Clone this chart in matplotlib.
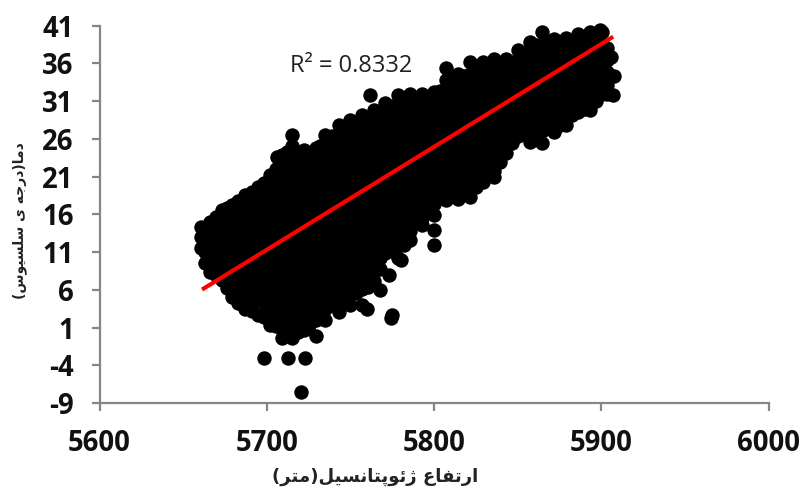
import matplotlib
matplotlib.use("Agg")
import matplotlib.pyplot as plt

# ── Data ──────────────────────────────────────────────────────
column_alt = [
    5660.7, 5666, 5673, 5679, 5687, 5695, 5702, 5709, 5715, 5722, 5729.5, 5735,
    5743, 5750, 5757, 5764, 5771, 5778.5, 5785.5, 5793, 5800, 5807, 5814.5, 5821.5,
    5829, 5836, 5843, 5850, 5857.5, 5864.5, 5872, 5879, 5886, 5893, 5900.5,
]
column_temp = [
    [14.3, 13.0, 11.6],
    [15.0, 13.4, 11.7, 10.0, 8.4],
    [16.6, 14.9, 13.3, 11.6, 10.0, 8.5, 7.3],
    [17.2, 15.5, 13.8, 12.2, 10.5, 8.8, 7.2, 5.1],
    [18.6, 17.0, 15.3, 13.7, 12.0, 10.4, 8.7, 7.0, 5.3, 3.5],
    [19.6, 18.0, 16.3, 14.7, 13.0, 11.4, 9.7, 8.0, 6.3, 4.6, 2.7],
    [21.2, 19.5, 17.9, 16.2, 14.6, 12.9, 11.3, 9.6, 8.0, 6.3, 4.7, 3.0, 1.4],
    [23.9, 22.2, 20.6, 18.9, 17.3, 15.6, 14.0, 12.3, 10.7, 9.0, 7.4, 5.7, 4.1, 2.4, 0.8, -0.4],
    [26.5, 25.0, 23.4, 21.8, 20.1, 18.5, 16.8, 15.2, 13.5, 11.9, 10.2, 8.6, 6.9, 5.3, 3.6, 2.0, 0.4, -0.4],
    [24.5, 22.9, 21.2, 19.6, 17.9, 16.3, 14.6, 13.0, 11.3, 9.7, 8.0, 6.4, 4.7, 3.1, 1.4, 0.7],
    [24.8, 23.2, 21.5, 19.9, 18.2, 16.6, 14.9, 13.3, 11.6, 10.0, 8.3, 6.7, 5.0, 3.4, 2.0, -0.1],
    [26.5, 24.9, 23.2, 21.6, 19.9, 18.3, 16.6, 15.0, 13.3, 11.7, 10.0, 8.4, 6.7, 5.1, 3.4, 2.0],
    [27.8, 26.2, 24.5, 22.9, 21.2, 19.6, 17.9, 16.3, 14.6, 13.0, 11.3, 9.7, 8.0, 6.4, 4.7, 3.1],
    [28.5, 26.9, 25.2, 23.6, 21.9, 20.3, 18.6, 17.0, 15.3, 13.7, 12.0, 10.4, 8.7, 7.1, 5.4, 4.0],
    [29.2, 27.6, 25.9, 24.3, 22.6, 21.0, 19.3, 17.7, 16.0, 14.4, 12.7, 11.1, 9.4, 7.8, 6.1, 4.0],
    [29.8, 28.2, 26.5, 24.9, 23.2, 21.6, 19.9, 18.3, 16.6, 15.0, 13.3, 11.7, 10.0, 8.5, 7.2],
    [30.8, 29.2, 27.5, 25.9, 24.2, 22.6, 20.9, 19.3, 17.6, 16.0, 14.3, 12.7, 10.9],
    [31.8, 30.2, 28.5, 26.9, 25.2, 23.6, 21.9, 20.3, 18.6, 17.0, 15.3, 13.7, 12.0, 10.2],
    [32.0, 30.3, 28.7, 27.0, 25.4, 23.7, 22.1, 20.4, 18.8, 17.1, 15.5, 13.8, 12.6],
    [32.0, 30.4, 28.7, 27.1, 25.4, 23.8, 22.1, 20.5, 18.8, 17.2, 15.5, 14.6],
    [32.2, 30.6, 28.9, 27.3, 25.6, 24.0, 22.3, 20.7, 19.0, 17.4, 15.9, 13.9, 12.0],
    [35.4, 33.8, 32.1, 30.5, 28.8, 27.2, 25.5, 23.9, 22.2, 20.6, 18.9, 17.9],
    [34.6, 33.0, 31.3, 29.7, 28.0, 26.4, 24.7, 23.1, 21.4, 19.8, 18.1],
    [36.2, 34.6, 32.9, 31.3, 29.6, 28.0, 26.3, 24.7, 23.0, 21.4, 19.7, 18.3],
    [36.2, 34.6, 32.9, 31.3, 29.6, 28.0, 26.3, 24.7, 23.0, 21.4, 20.3],
    [36.6, 35.0, 33.3, 31.7, 30.0, 28.4, 26.7, 25.1, 23.4, 21.8, 21.0],
    [36.6, 35.0, 33.3, 31.7, 30.0, 28.4, 26.7, 25.1, 24.1],
    [37.8, 36.2, 34.5, 32.9, 31.2, 29.6, 27.9, 26.4],
    [38.8, 37.2, 35.5, 33.9, 32.2, 30.6, 28.9, 27.3, 25.6],
    [40.2, 38.6, 36.9, 35.3, 33.6, 32.0, 30.3, 28.7, 27.0, 25.5],
    [39.2, 37.6, 35.9, 34.3, 32.6, 31.0, 29.3, 27.7, 26.9],
    [39.4, 37.8, 36.1, 34.5, 32.8, 31.2, 29.5, 27.8],
    [39.9, 38.3, 36.6, 35.0, 33.3, 31.7, 30.0, 29.5],
    [40.2, 38.6, 36.9, 35.3, 33.6, 32.0, 30.3, 29.8],
    [40.2, 38.6, 36.9, 35.3, 33.6, 32.0],
]

# points inside the solid part of the cloud, between the columns above
inner_alt = [
    5663, 5669.5, 5676, 5683, 5691, 5698.5, 5705.5, 5712, 5718.5, 5725.5, 5732, 5739,
    5746.5, 5753.5, 5760.5, 5767.5, 5775, 5782, 5789, 5796.5, 5803.5, 5811, 5818, 5825,
    5832.5, 5839.5, 5846.5, 5854, 5861, 5868, 5875.5, 5882.5, 5889.5, 5897, 5903.5,
]
inner_temp = [
    [14.2, 12.6, 11.0, 9.6],
    [15.6, 14.0, 12.4, 10.8, 9.2, 8.0],
    [16.8, 15.2, 13.6, 12.0, 10.4, 8.8, 7.2, 6.2],
    [17.8, 16.2, 14.6, 13.0, 11.4, 9.8, 8.2, 6.6, 5.0, 4.2],
    [19.0, 17.4, 15.8, 14.2, 12.6, 11.0, 9.4, 7.8, 6.2, 4.6, 3.2],
    [20.2, 18.6, 17.0, 15.4, 13.8, 12.2, 10.6, 9.0, 7.4, 5.8, 4.2, 2.4],
    [22.0, 20.4, 18.8, 17.2, 15.6, 14.0, 12.4, 10.8, 9.2, 7.6, 6.0, 4.4, 2.8, 1.2],
    [24.2, 22.6, 21.0, 19.4, 17.8, 16.2, 14.6, 13.0, 11.4, 9.8, 8.2, 6.6, 5.0, 3.4, 1.8, 0.4],
    [24.0, 22.4, 20.8, 19.2, 17.6, 16.0, 14.4, 12.8, 11.2, 9.6, 8.0, 6.4, 4.8, 3.2, 1.6, 0.4],
    [23.8, 22.2, 20.6, 19.0, 17.4, 15.8, 14.2, 12.6, 11.0, 9.4, 7.8, 6.2, 4.6, 3.0, 1.4],
    [25.0, 23.4, 21.8, 20.2, 18.6, 17.0, 15.4, 13.8, 12.2, 10.6, 9.0, 7.4, 5.8, 4.2, 2.6],
    [26.4, 24.8, 23.2, 21.6, 20.0, 18.4, 16.8, 15.2, 13.6, 12.0, 10.4, 8.8, 7.2, 5.6, 4.0],
    [27.4, 25.8, 24.2, 22.6, 21.0, 19.4, 17.8, 16.2, 14.6, 13.0, 11.4, 9.8, 8.2, 6.6, 5.0],
    [28.0, 26.4, 24.8, 23.2, 21.6, 20.0, 18.4, 16.8, 15.2, 13.6, 12.0, 10.4, 8.8, 7.2, 5.6],
    [28.6, 27.0, 25.4, 23.8, 22.2, 20.6, 19.0, 17.4, 15.8, 14.2, 12.6, 11.0, 9.4, 7.8, 6.4],
    [29.4, 27.8, 26.2, 24.6, 23.0, 21.4, 19.8, 18.2, 16.6, 15.0, 13.4, 11.8, 10.2, 8.8],
    [30.4, 28.8, 27.2, 25.6, 24.0, 22.4, 20.8, 19.2, 17.6, 16.0, 14.4, 12.8, 11.2],
    [31.0, 29.4, 27.8, 26.2, 24.6, 23.0, 21.4, 19.8, 18.2, 16.6, 15.0, 13.4, 12.0],
    [31.0, 29.4, 27.8, 26.2, 24.6, 23.0, 21.4, 19.8, 18.2, 16.6, 15.2],
    [31.2, 29.6, 28.0, 26.4, 24.8, 23.2, 21.6, 20.0, 18.4, 16.8],
    [32.4, 30.8, 29.2, 27.6, 26.0, 24.4, 22.8, 21.2, 19.6, 18.2],
    [33.8, 32.2, 30.6, 29.0, 27.4, 25.8, 24.2, 22.6, 21.0, 19.4],
    [34.4, 32.8, 31.2, 29.6, 28.0, 26.4, 24.8, 23.2, 21.6, 20.0, 19.0],
    [35.2, 33.6, 32.0, 30.4, 28.8, 27.2, 25.6, 24.0, 22.4, 20.8, 19.6],
    [35.4, 33.8, 32.2, 30.6, 29.0, 27.4, 25.8, 24.2, 22.6, 21.4],
    [35.6, 34.0, 32.4, 30.8, 29.2, 27.6, 26.0, 24.4, 23.0],
    [36.2, 34.6, 33.0, 31.4, 29.8, 28.2, 26.6, 25.4],
    [37.4, 35.8, 34.2, 32.6, 31.0, 29.4, 27.8, 26.6],
    [38.4, 36.8, 35.2, 33.6, 32.0, 30.4, 28.8, 27.2, 26.0],
    [38.8, 37.2, 35.6, 34.0, 32.4, 30.8, 29.2, 27.6],
    [38.6, 37.0, 35.4, 33.8, 32.2, 30.6, 29.0, 27.8],
    [38.8, 37.2, 35.6, 34.0, 32.4, 30.8, 29.2],
    [39.0, 37.4, 35.8, 34.2, 32.6, 31.0, 30.0],
    [39.0, 37.4, 35.8, 34.2, 32.6, 31.0],
    [38.0, 36.4, 34.8, 33.2, 32.0],
]

# stray points sitting off the main cloud
stray_alt = [5698.3, 5712.7, 5722.9, 5720.5, 5762, 5706, 5773, 5768, 5775, 5774,
             5760, 5780, 5905.8, 5907.6, 5907, 5899]
stray_temp = [-3.0, -3.0, -3.0, -7.5, 31.8, 23.6, 8.0, 6.0, 2.6, 2.3,
              3.5, 10.0, 36.9, 34.3, 31.8, 40.4]

fit_alt = [5661.3, 5907.1]
fit_temp = [6.03, 39.54]

x_ticks = [5600, 5700, 5800, 5900, 6000]
y_ticks = [-9, -4, 1, 6, 11, 16, 21, 26, 31, 36, 41]
y_tick_labels = ["-9", "-4", "1", "6", "11", "16", "21", "26", "31", "36", "41"]

# matplotlib does not shape Arabic script, so these are already in joined
# presentation forms and in visual (left to right) order
x_title = "(\ufeae\ufe98\ufee3)\ufede\ufbff\ufeb4\ufee7\ufe8e\ufe98\ufb58\ufeee\ufe8b\ufb8a \ufec9\ufe8e\ufed4\ufe97\ufead\ufe8d"
y_title = "(\ufeb1\ufeee\ufbff\ufeb4\ufee0\ufeb3 \ufbfc \ufeea\ufe9f\ufead\ufea9)\ufe8e\ufee3\ufea9"

AXIS_GREY = "#868686"

# ── Figure ────────────────────────────────────────────────────
fig = plt.figure(figsize=(8, 4.88), dpi=100)
ax = fig.add_axes([99.5 / 800, 1 - 403 / 488, 669 / 800, 377.3 / 488])

for alts, temps_list in ((column_alt, column_temp), (inner_alt, inner_temp)):
    for alt, temps in zip(alts, temps_list):
        ax.plot([alt] * len(temps), temps, "o", color="black", ms=10.4, mew=0, clip_on=False)
ax.plot(stray_alt, stray_temp, "o", color="black", ms=10.4, mew=0, clip_on=False)
ax.plot(fit_alt, fit_temp, color="#ff0000", lw=3.0, solid_capstyle="butt", zorder=5)

ax.set_xlim(5600, 6000)
ax.set_ylim(-9, 41)
ax.set_xticks(x_ticks)
ax.set_yticks(y_ticks, y_tick_labels)

ax.spines["top"].set_visible(False)
ax.spines["right"].set_visible(False)
for side in ("left", "bottom"):
    ax.spines[side].set_color(AXIS_GREY)
    ax.spines[side].set_linewidth(1.6)
ax.tick_params(axis="both", color=AXIS_GREY, width=1.6, length=6)
ax.tick_params(axis="x", pad=13)
ax.tick_params(axis="y", pad=12.5)
for label in ax.get_xticklabels() + ax.get_yticklabels():
    label.set_fontfamily("Open Sans")
    label.set_fontweight("bold")
    label.set_fontsize(19.8)
    label.set_color("#111111")

ax.text(5714, 35.7, "R² = 0.8332", family="Open Sans", fontsize=17,
        color="#222222", va="center", ha="left")

fig.text(375 / 800, 1 - 477 / 488, x_title, family="DejaVu Sans", fontsize=13,
         fontweight="bold", color="#222222", ha="center", va="center")
fig.text(20 / 800, 1 - 221 / 488, y_title, family="DejaVu Sans", fontsize=10,
         fontweight="bold", color="#222222", rotation=90, ha="center", va="center")

fig.savefig("out.png", dpi=100)
